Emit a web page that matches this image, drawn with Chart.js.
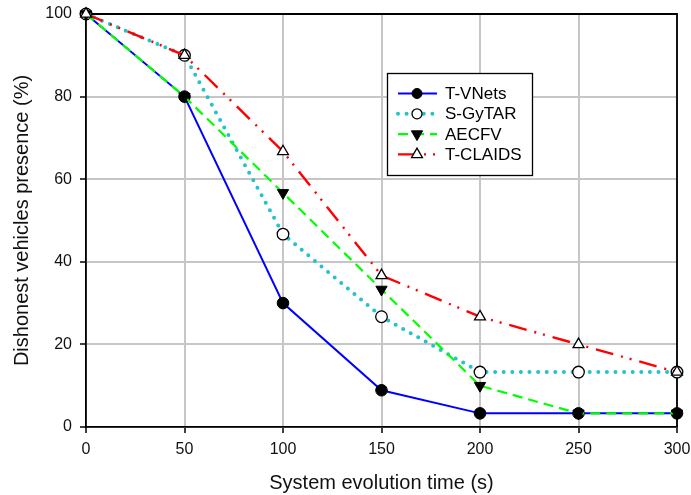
<!DOCTYPE html>
<html>
<head>
<meta charset="utf-8">
<script src="https://cdn.jsdelivr.net/npm/chart.js@4.4.0/dist/chart.umd.min.js"></script>
<style>
  html, body { margin: 0; padding: 0; background: #fff; }
  #wrap { width: 691px; height: 495px; }
</style>
</head>
<body>
<div id="wrap"><canvas id="chart" width="691" height="495"></canvas></div>
<script>
// dados
const times = [0, 50, 100, 150, 200, 250, 300];
const tVNets = [100, 80, 30, 8.9, 3.3, 3.3, 3.3];
const sGyTAR = [100, 90, 46.7, 26.7, 13.3, 13.3, 13.3];
const aecfv = [100, 80, 56.7, 33.3, 10, 3.3, 3.3];
const tClaids = [100, 90, 66.7, 36.7, 26.7, 20, 13.3];

const xTicks = [0, 50, 100, 150, 200, 250, 300];
const yTicks = [0, 20, 40, 60, 80, 100];

const toPts = (arr) => arr.map((v, i) => ({ x: times[i], y: v }));

const FONT = "Arial, 'Liberation Sans', sans-serif";

// moldura (topo e direita)
const frame = {
  id: "frame",
  beforeDatasetsDraw(chart) {
    const { ctx, chartArea: a } = chart;
    ctx.save();
    ctx.strokeStyle = "#000";
    ctx.lineWidth = 1.8;
    ctx.beginPath();
    ctx.moveTo(a.left, a.top);
    ctx.lineTo(a.right, a.top);
    ctx.lineTo(a.right, a.bottom);
    ctx.stroke();
    ctx.restore();
  }
};

// legenda com linha + marcador
const legendBox = {
  id: "legendBox",
  afterDraw(chart) {
    const { ctx } = chart;
    const x0 = 387, y0 = 73, w = 145, h = 102;
    ctx.save();
    ctx.fillStyle = "#fff";
    ctx.fillRect(x0, y0, w, h);
    ctx.strokeStyle = "#000";
    ctx.lineWidth = 1.3;
    ctx.strokeRect(x0 + 0.5, y0 + 0.5, w, h);

    chart.data.datasets.forEach((ds, i) => {
      const y = 93.5 + i * 20.3;
      ctx.setLineDash(ds.borderDash || []);
      ctx.lineCap = ds.borderCapStyle || "butt";
      ctx.strokeStyle = ds.borderColor;
      ctx.lineWidth = ds.borderWidth;
      ctx.beginPath();
      ctx.moveTo(398, y);
      ctx.lineTo(437, y);
      ctx.stroke();

      ctx.setLineDash([]);
      ctx.lineCap = "butt";
      ctx.fillStyle = ds.pointBackgroundColor;
      ctx.strokeStyle = ds.pointBorderColor;
      ctx.lineWidth = ds.pointBorderWidth;
      Chart.helpers.drawPoint(ctx, {
        pointStyle: ds.pointStyle,
        radius: ds.pointStyle === "circle" ? 5 : ds.pointRadius,
        rotation: ds.pointRotation || 0,
        borderWidth: ds.pointBorderWidth
      }, 417, y);

      ctx.fillStyle = "#000";
      ctx.font = "17px " + FONT;
      ctx.textBaseline = "middle";
      ctx.textAlign = "left";
      ctx.fillText(ds.label, 445, y + 1);
    });
    ctx.restore();
  }
};

new Chart(document.getElementById("chart"), {
  type: "line",
  data: {
    datasets: [
      {
        label: "T-VNets",
        data: toPts(tVNets),
        borderColor: "#0000ff",
        borderWidth: 2,
        pointStyle: "circle",
        pointRadius: 5.8,
        pointBackgroundColor: "#000",
        pointBorderColor: "#000",
        pointBorderWidth: 1,
        order: 3
      },
      {
        label: "S-GyTAR",
        data: toPts(sGyTAR),
        borderColor: "#22c3c9",
        borderWidth: 4,
        borderDash: [0, 8.6],
        borderCapStyle: "round",
        pointStyle: "circle",
        pointRadius: 5.8,
        pointBackgroundColor: "#fff",
        pointBorderColor: "#000",
        pointBorderWidth: 1.3,
        order: 2
      },
      {
        label: "AECFV",
        data: toPts(aecfv),
        borderColor: "#00ff00",
        borderWidth: 2.2,
        borderDash: [10, 6],
        pointStyle: "triangle",
        pointRotation: 180,
        pointRadius: 6.5,
        pointBackgroundColor: "#000",
        pointBorderColor: "#000",
        pointBorderWidth: 1,
        order: 1
      },
      {
        label: "T-CLAIDS",
        data: toPts(tClaids),
        borderColor: "#ff0000",
        borderWidth: 2.4,
        borderDash: [18, 8, 2, 7, 2, 8],
        pointStyle: "triangle",
        pointRadius: 6.3,
        pointBackgroundColor: "#fff",
        pointBorderColor: "#000",
        pointBorderWidth: 1.3,
        order: 0
      }
    ]
  },
  options: {
    responsive: false,
    animation: false,
    devicePixelRatio: 1,
    layout: { padding: { left: 0, top: 14, right: 14, bottom: 0 } },
    elements: { line: { tension: 0, fill: false } },
    datasets: { line: { clip: false } },
    plugins: {
      legend: { display: false },
      tooltip: { enabled: false }
    },
    scales: {
      x: {
        type: "linear",
        min: 0,
        max: 300,
        afterBuildTicks: (s) => { s.ticks = xTicks.map(v => ({ value: v })); },
        afterFit: (s) => { s.height = 68; s.paddingRight = 0; s.paddingLeft = 0; },
        ticks: { color: "#111", font: { family: FONT, size: 16 }, padding: 7, maxRotation: 0 },
        grid: { color: "#c6c6c6", lineWidth: 2, tickColor: "#000", tickLength: 6, tickWidth: 1.5 },
        border: { color: "#000", width: 1.8 },
        title: {
          display: true,
          text: "System evolution time (s)",
          color: "#111",
          font: { family: FONT, size: 20 },
          padding: { top: 2, bottom: 0 }
        }
      },
      y: {
        min: 0,
        max: 100,
        afterBuildTicks: (s) => { s.ticks = yTicks.map(v => ({ value: v })); },
        afterFit: (s) => { s.width = 86; s.paddingTop = 0; s.paddingBottom = 0; },
        ticks: { color: "#111", font: { family: FONT, size: 16 }, padding: 8 },
        grid: { color: "#c6c6c6", lineWidth: 2, tickColor: "#000", tickLength: 6, tickWidth: 1.5 },
        border: { color: "#000", width: 1.8 },
        title: {
          display: true,
          text: "Dishonest vehicles presence (%)",
          color: "#111",
          font: { family: FONT, size: 20 },
          padding: { top: 10, bottom: 4 }
        }
      }
    }
  },
  plugins: [frame, legendBox]
});
</script>
</body>
</html>
